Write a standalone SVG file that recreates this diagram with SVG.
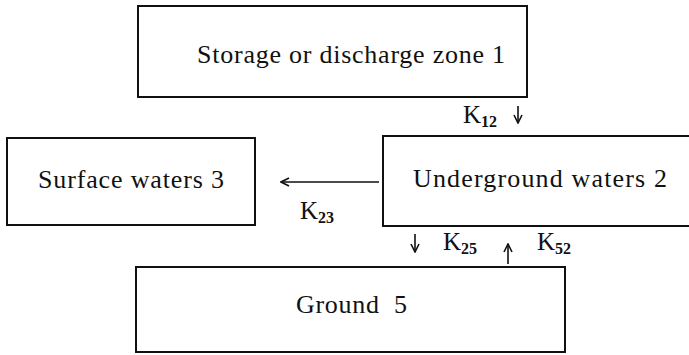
<svg xmlns="http://www.w3.org/2000/svg" width="689" height="355" viewBox="0 0 689 355">
  <style>
    .box { fill: #fff; stroke: #111; stroke-width: 2; }
    .label { font-family: "Liberation Serif", "DejaVu Serif", serif; font-size: 26px; fill: #111; }
    .k { font-family: "Liberation Serif", "DejaVu Serif", serif; font-size: 25px; fill: #111; }
    .sub { font-size: 16px; font-weight: bold; }
    .flow { stroke: #111; stroke-width: 1.6; fill: none; marker-end: url(#head); }
  </style>
  <defs>
    <marker id="head" viewBox="0 0 10 10" refX="9" refY="5" markerWidth="10" markerHeight="10" markerUnits="userSpaceOnUse" orient="auto">
      <path d="M1,1 L9,5 L1,9" fill="none" stroke="#111" stroke-width="1.6"/>
    </marker>
  </defs>

  <rect width="689" height="355" fill="#fff"/>

  <g id="zone1">
    <rect class="box" x="138" y="6" width="389" height="91"/>
    <text class="label" x="197" y="63" textLength="308" lengthAdjust="spacing">Storage or discharge zone 1</text>
  </g>

  <g id="underground2">
    <rect class="box" x="383" y="136" width="320" height="90"/>
    <text class="label" x="413" y="187" textLength="254" lengthAdjust="spacing">Underground waters 2</text>
  </g>

  <g id="surface3">
    <rect class="box" x="7" y="138" width="248" height="87"/>
    <text class="label" x="38" y="188" textLength="186" lengthAdjust="spacing">Surface waters 3</text>
  </g>

  <g id="ground5">
    <rect class="box" x="136" y="267" width="429" height="85"/>
    <text class="label" x="296" y="313" textLength="111" lengthAdjust="spacing" xml:space="preserve">Ground  5</text>
  </g>

  <g id="connectors">
    <line class="flow" x1="518" y1="106" x2="518" y2="123"/>
    <text class="k" x="463" y="123">K<tspan class="sub" dy="4">12</tspan></text>

    <line class="flow" x1="379" y1="182" x2="281" y2="182"/>
    <text class="k" x="300" y="219">K<tspan class="sub" dy="4">23</tspan></text>

    <line class="flow" x1="415" y1="234" x2="415" y2="252"/>
    <text class="k" x="443" y="250">K<tspan class="sub" dy="4">25</tspan></text>

    <line class="flow" x1="508" y1="264" x2="508" y2="244"/>
    <text class="k" x="537" y="250">K<tspan class="sub" dy="4">52</tspan></text>
  </g>
</svg>
